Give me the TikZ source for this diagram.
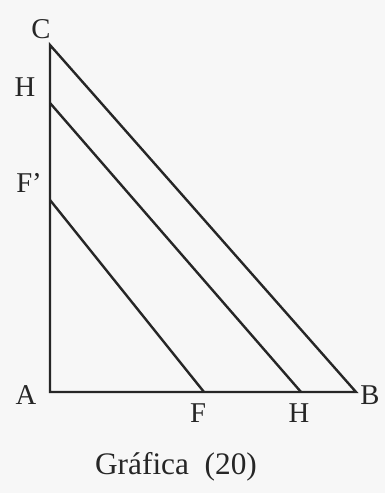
\documentclass[tikz,border=0pt]{standalone}
\usepackage{fontspec}
\setmainfont{Liberation Serif}
\begin{document}
\begin{tikzpicture}[x=0.75pt,y=-0.75pt,
  seg/.style={line width=1.8pt,draw=black!85},
  lab/.style={font=\fontsize{21.5}{24}\selectfont,text=black!85,inner sep=0pt}]
\fill[black!3] (0,0) rectangle (385,493);
\useasboundingbox (0,0) rectangle (385,493);
\coordinate (C) at (50,45);
\coordinate (Hv) at (50,103);
\coordinate (Fv) at (50,200);
\coordinate (A) at (50,392);
\coordinate (F) at (204,392);
\coordinate (Hh) at (301,392);
\coordinate (B) at (356,392);
\draw[seg] (C) -- (A) -- (B) -- cycle;
\draw[seg] (Hv) -- (Hh);
\draw[seg] (Fv) -- (F);
\node[lab] (lC) at (41,29) {C};
\node[lab] (lH1) at (25,87) {H};
\node[lab] (lF1) at (29,183) {F’};
\node[lab] (lA) at (26,395) {A};
\node[lab] (lF) at (198,413) {F};
\node[lab] (lH2) at (299,413) {H};
\node[lab] (lB) at (370,395) {B};
\node[lab,font=\fontsize{23.5}{26}\selectfont] (cap) at (176,467) {Gráfica\ \ (20)};
\end{tikzpicture}
\end{document}
